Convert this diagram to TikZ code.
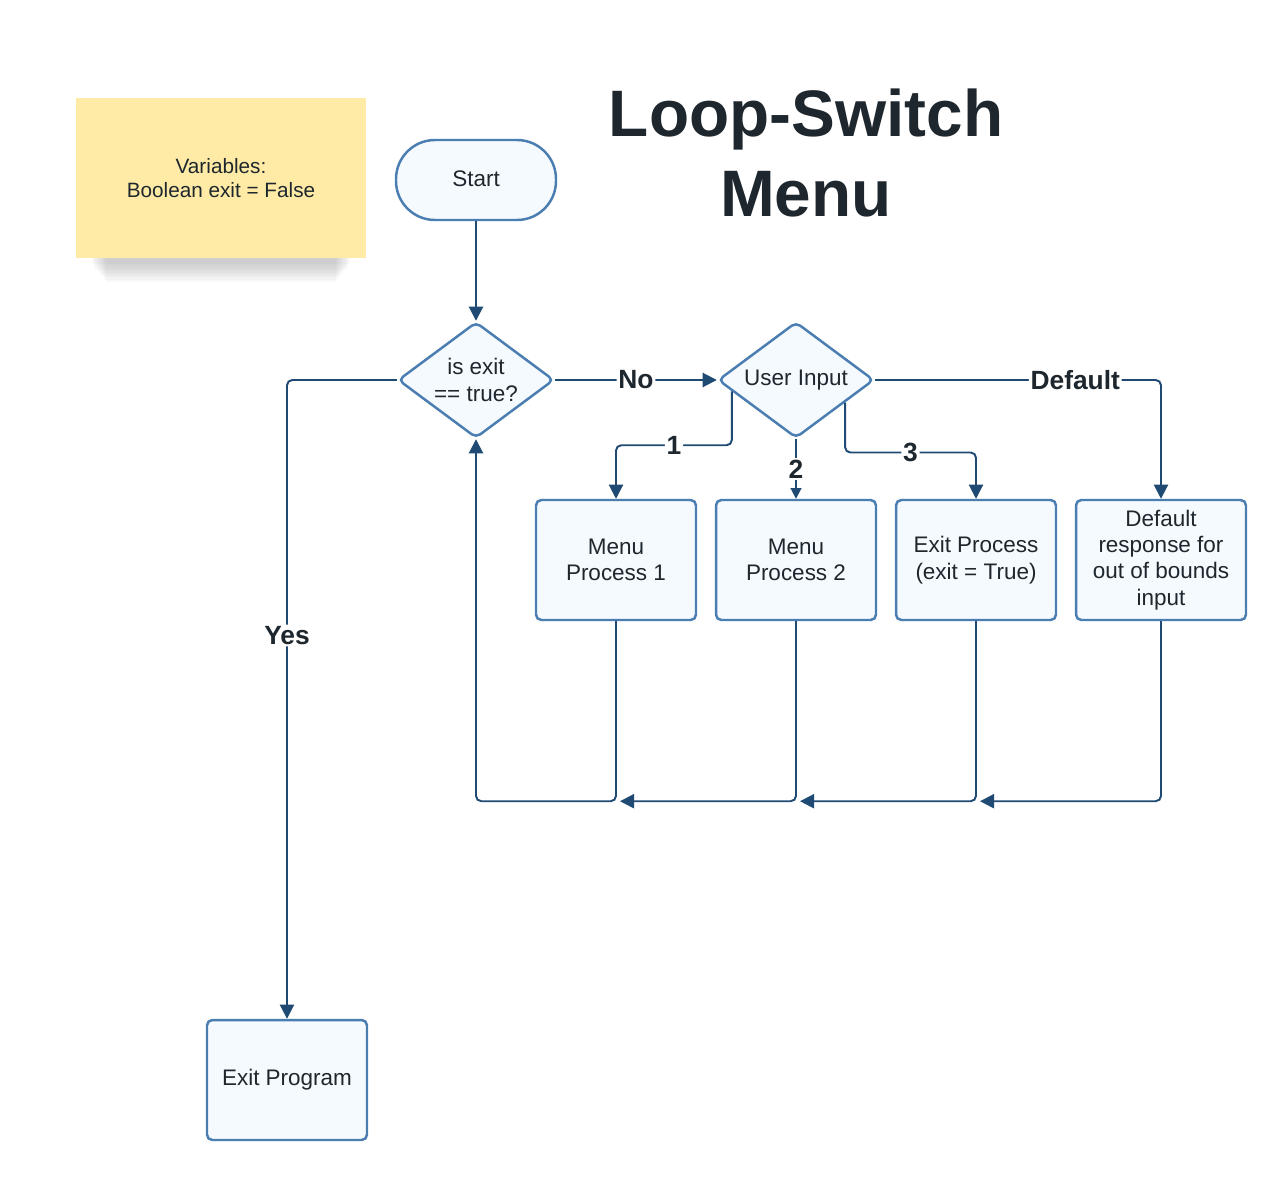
\documentclass[tikz,border=0pt]{standalone}
\usepackage{fontspec}
\setmainfont{Liberation Sans}
\usepackage{xcolor}
\usetikzlibrary{calc, shapes.geometric, arrows.meta}
\definecolor{boxedge}{HTML}{4A7DB0}
\definecolor{boxfill}{HTML}{F5FAFF}
\definecolor{wirecol}{HTML}{1F4A73}
\definecolor{notefill}{HTML}{FFEBA5}
\definecolor{inktext}{HTML}{1E272E}

\begin{document}
\begin{tikzpicture}[x=0.02cm,y=-0.02cm]
          \tikzstyle{pbox}=[draw=boxedge,fill=boxfill,line width=1.4pt,rounded corners=3pt,minimum width=3.2cm,minimum height=2.4cm,align=center,text=inktext,font=\fontsize{12.8}{15}\selectfont]
          \tikzstyle{pstart}=[pbox,rounded corners=0.78cm,minimum height=1.6cm]
          \tikzstyle{pdecide}=[pbox,diamond,aspect=1.345,inner sep=0pt,minimum width=3.12cm,minimum height=2.32cm]
          \tikzstyle{pnote}=[fill=notefill,minimum width=5.82cm,minimum height=3.2cm,align=center,text=inktext,font=\fontsize{11.8}{13.6}\selectfont]
          \tikzstyle{wire}=[draw=wirecol,line width=1.1pt,rounded corners=3pt,-{Triangle[width=8pt,length=8pt]}]
          \tikzstyle{lbl}=[fill=white,inner sep=1pt,text=inktext,font=\bfseries\fontsize{15}{15}\selectfont]
          \useasboundingbox (0,0) rectangle (1286,1180);
          % soft shadow under the note
          \foreach \k in {1,...,9}
            \fill[black,opacity=0.022] (90+\k*1.8,252) rectangle (352-\k*1.8,262+\k*2.2);
          % nodes
          \node[pnote] (vars) at (221,178) {Variables:\\Boolean exit = False};
          \node[align=center,text=inktext,font=\bfseries\fontsize{37.4}{45}\selectfont] (title) at (806,153) {Loop-Switch\\Menu};
          \node[pstart] (start) at (476,180) {\raisebox{2pt}{Start}};
          \node[pdecide] (d1) at (476,380) {is exit\\== true?};
          \node[pdecide] (d2) at (796,380) {User Input};
          \node[pbox] (mp1) at (616,560) {Menu\\Process 1};
          \node[pbox] (mp2) at (796,560) {Menu\\Process 2};
          \node[pbox] (ep) at (976,560) {Exit Process\\(exit = True)};
          \node[pbox,minimum width=3.4cm] (dflt) at (1161,560) {Default\\response for\\out of bounds\\input};
          \node[pbox] (exitp) at (287,1080) {Exit Program};
          \coordinate (c1) at ($(d2.west)!0.19!(d2.south)$);
          \coordinate (c3) at ($(d2.south)!0.62!(d2.east)$);
          % forward edges
          \draw[wire] (start) -- (d1);
          \draw[wire] (d1.east) -- node[lbl]{No} (d2.west);
          \draw[wire] (d2.east) -| node[lbl,pos=0.35]{Default} (dflt.north);
          \draw[wire] (c1) -- ++(0,54) -| node[lbl,pos=0.25]{1} (mp1.north);
          \draw[wire,-{Triangle[width=6pt,length=6pt]}] (d2.south) -- node[lbl]{2} (mp2.north);
          \draw[wire] (c3) -- ++(0,50) -| node[lbl,pos=0.25]{3} (ep.north);
          \draw[wire] (d1.west) -| node[lbl,pos=0.7]{Yes} (exitp.north);
          % return edges
          \draw[wire] (mp1.south) -- ++(0,180) -| (d1.south);
          \foreach \a/\b in {mp2/mp1,ep/mp2,dflt/ep}
            \draw[wire] (\a.south) |- ($(\b.south)+(4,180)$);
        \end{tikzpicture}
\end{document}
